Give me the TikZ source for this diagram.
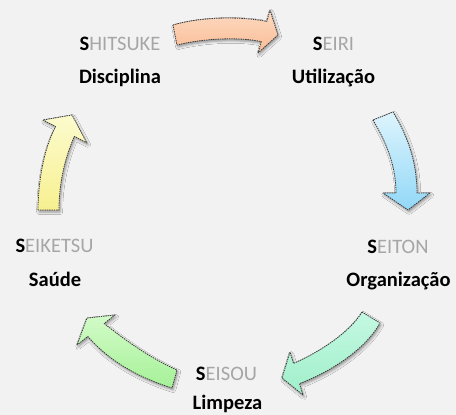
\documentclass[tikz,border=0pt]{standalone}
\usepackage{fontspec}
\setmainfont{Carlito}
\usetikzlibrary{shadows.blur}
\definecolor{bg}{HTML}{F2F2F2}
\definecolor{soft}{HTML}{A6A6A6}
\definecolor{orA}{HTML}{FDDAC2}
\definecolor{orB}{HTML}{F9BC95}
\definecolor{blA}{HTML}{DDF4FD}
\definecolor{blB}{HTML}{92D8F7}
\definecolor{mnA}{HTML}{C4F8E2}
\definecolor{mnB}{HTML}{A0EFCA}
\definecolor{grA}{HTML}{D2FBC8}
\definecolor{grB}{HTML}{A6F198}
\definecolor{ylA}{HTML}{FCFBCE}
\definecolor{ylB}{HTML}{F7F090}
\begin{document}
\begin{tikzpicture}[x=1pt,y=-1pt,
  arrowshape/.style={draw=black!78, line width=0.8pt, dash pattern=on 1.4pt off 0.9pt, line join=round,
    blur shadow={shadow xshift=1.2pt, shadow yshift=-2pt, shadow blur radius=2.5pt, shadow opacity=40}},
  lbl/.style={font=\fontsize{20.5}{24}\selectfont, inner sep=0pt, anchor=base},
  sub/.style={lbl, font=\fontsize{20.5}{24}\selectfont\bfseries}]
\fill[bg] (0,0) rectangle (456,415);
\useasboundingbox (0,0) rectangle (456,415);

% orange arrow (Shitsuke -> Seiri)
\draw[arrowshape, top color=orA, bottom color=orB]
  (173,25) .. controls (200,17) and (240,16) .. (266.8,21.4)
  -- (270,10) -- (278,35) -- (258,53) -- (261.2,41.6)
  .. controls (240,37) and (205,38) .. (177,45) -- cycle;

% blue arrow (Seiri -> Seiton)
\draw[arrowshape, top color=blA, bottom color=blB]
  (373,120) .. controls (386,142) and (396,165) .. (396,193)
  -- (383,193) -- (408,210) -- (430,193) -- (417,193)
  .. controls (417,160) and (406,133) .. (393,112) -- cycle;

% mint arrow (Seiton -> Seisou)
\draw[arrowshape, top color=mnA, bottom color=mnB]
  (362,312) .. controls (350,332) and (320,352) .. (293.5,363.4)
  -- (290,352) -- (282,378) -- (303,395) -- (299.5,383.6)
  .. controls (330,372) and (365,350) .. (380,323) -- cycle;

% green arrow (Seisou -> Seiketsu)
\draw[arrowshape, top color=grA, bottom color=grB]
  (172,388) .. controls (140,378) and (110,362) .. (87.8,336.5)
  -- (77,345) -- (87,318) -- (115,315) -- (104.2,323.5)
  .. controls (125,340) and (150,358) .. (177,370) -- cycle;

% yellow arrow (Seiketsu -> Shitsuke)
\draw[arrowshape, top color=ylA, bottom color=ylB]
  (38,210) .. controls (38,185) and (43,150) .. (55.7,126.6)
  -- (43,120) -- (72,115) -- (87,143) -- (74.3,136.4)
  .. controls (65,158) and (59,182) .. (59,210) -- cycle;

% labels
\node[lbl] (shitsuke) at (120,50) {\textbf{S}\textcolor{soft}{HITSUKE}};
\node[sub] (disciplina) at (120,83) {Disciplina};
\node[lbl] (seiri) at (333.5,50) {\textbf{S}\textcolor{soft}{EIRI}};
\node[sub] (utilizacao) at (333.5,83) {Utilização};
\node[lbl] (seiton) at (398,253) {\textbf{S}\textcolor{soft}{EITON}};
\node[sub] (organizacao) at (398.5,286) {Organização};
\node[lbl] (seiketsu) at (54.5,252) {\textbf{S}\textcolor{soft}{EIKETSU}};
\node[sub] (saude) at (55,286) {Saúde};
\node[lbl] (seisou) at (226.5,380) {\textbf{S}\textcolor{soft}{EISOU}};
\node[sub] (limpeza) at (227.5,409) {Limpeza};
\end{tikzpicture}
\end{document}
